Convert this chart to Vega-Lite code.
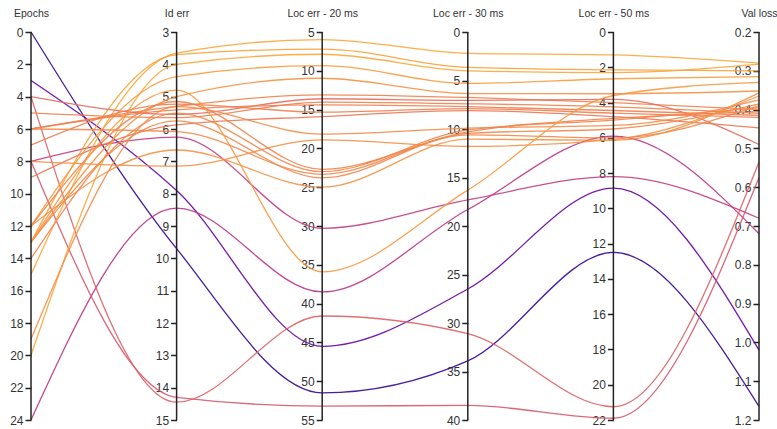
{
  "$schema": "https://vega.github.io/schema/vega-lite/v6.json",
  "width": 728,
  "height": 388,
  "autosize": {"type": "none"},
  "padding": {"left": 31, "top": 32, "right": 18, "bottom": 9},
  "background": "white",
  "config": {
    "view": {"stroke": null},
    "font": "Liberation Sans",
    "axis": {
      "domain": false,
      "grid": false,
      "ticks": true,
      "tickColor": "#222",
      "tickSize": 6,
      "tickWidth": 1.5,
      "labelFont": "Liberation Sans",
      "labelFontSize": 12,
      "labelColor": "#333",
      "labelPadding": 2,
      "titleFont": "Liberation Sans",
      "titleFontSize": 10.5,
      "titleFontWeight": "normal",
      "titleColor": "#333",
      "titleAngle": 0,
      "titleX": 0,
      "titleY": -16,
      "titleAlign": "center",
      "titleBaseline": "alphabetic"
    }
  },
  "datasets": {
    "dims": [
      {"key": "Epochs", "idx": 0, "lo": 0, "hi": 24},
      {"key": "Id err", "idx": 1, "lo": 3, "hi": 15},
      {"key": "Loc err - 20 ms", "idx": 2, "lo": 5, "hi": 55},
      {"key": "Loc err - 30 ms", "idx": 3, "lo": 0, "hi": 40},
      {"key": "Loc err - 50 ms", "idx": 4, "lo": 0, "hi": 22},
      {"key": "Val loss", "idx": 5, "lo": 0.2, "hi": 1.2}
    ],
    "runs": [
      {"run": 1, "Epochs": 0, "Id err": 9.7, "Loc err - 20 ms": 51.5, "Loc err - 30 ms": 33.9, "Loc err - 50 ms": 12.5, "Val loss": 1.165},
      {"run": 2, "Epochs": 3, "Id err": 7.9, "Loc err - 20 ms": 45.5, "Loc err - 30 ms": 26.5, "Loc err - 50 ms": 8.85, "Val loss": 1.02},
      {"run": 3, "Epochs": 24, "Id err": 8.45, "Loc err - 20 ms": 38.5, "Loc err - 30 ms": 18.3, "Loc err - 50 ms": 5.9, "Val loss": 0.72},
      {"run": 4, "Epochs": 8, "Id err": 6.25, "Loc err - 20 ms": 30.3, "Loc err - 30 ms": 17.3, "Loc err - 50 ms": 8.2, "Val loss": 0.68},
      {"run": 5, "Epochs": 8, "Id err": 14.3, "Loc err - 20 ms": 53.2, "Loc err - 30 ms": 38.5, "Loc err - 50 ms": 21.9, "Val loss": 0.575},
      {"run": 6, "Epochs": 4, "Id err": 14.45, "Loc err - 20 ms": 41.6, "Loc err - 30 ms": 31.1, "Loc err - 50 ms": 21.25, "Val loss": 0.535},
      {"run": 7, "Epochs": 15, "Id err": 3.65, "Loc err - 20 ms": 5.97, "Loc err - 30 ms": 2.2, "Loc err - 50 ms": 1.3, "Val loss": 0.28},
      {"run": 8, "Epochs": 13, "Id err": 3.7, "Loc err - 20 ms": 7.2, "Loc err - 30 ms": 3.65, "Loc err - 50 ms": 2.15, "Val loss": 0.3},
      {"run": 9, "Epochs": 20, "Id err": 4.0, "Loc err - 20 ms": 7.87, "Loc err - 30 ms": 4.0, "Loc err - 50 ms": 2.3, "Val loss": 0.283},
      {"run": 10, "Epochs": 12, "Id err": 4.38, "Loc err - 20 ms": 9.33, "Loc err - 30 ms": 5.3, "Loc err - 50 ms": 2.65, "Val loss": 0.315},
      {"run": 11, "Epochs": 13, "Id err": 5.0, "Loc err - 20 ms": 10.96, "Loc err - 30 ms": 6.35, "Loc err - 50 ms": 3.5, "Val loss": 0.352},
      {"run": 12, "Epochs": 6, "Id err": 5.3, "Loc err - 20 ms": 13.1, "Loc err - 30 ms": 6.75, "Loc err - 50 ms": 4.0, "Val loss": 0.4},
      {"run": 13, "Epochs": 4, "Id err": 5.55, "Loc err - 20 ms": 13.6, "Loc err - 30 ms": 7.05, "Loc err - 50 ms": 3.82, "Val loss": 0.49},
      {"run": 14, "Epochs": 5, "Id err": 5.65, "Loc err - 20 ms": 14.03, "Loc err - 30 ms": 7.4, "Loc err - 50 ms": 4.25, "Val loss": 0.41},
      {"run": 15, "Epochs": 6, "Id err": 5.41, "Loc err - 20 ms": 14.4, "Loc err - 30 ms": 7.7, "Loc err - 50 ms": 4.45, "Val loss": 0.415},
      {"run": 16, "Epochs": 7, "Id err": 5.23, "Loc err - 20 ms": 15.33, "Loc err - 30 ms": 7.9, "Loc err - 50 ms": 4.6, "Val loss": 0.42},
      {"run": 17, "Epochs": 9, "Id err": 5.87, "Loc err - 20 ms": 15.9, "Loc err - 30 ms": 8.1, "Loc err - 50 ms": 4.8, "Val loss": 0.447},
      {"run": 18, "Epochs": 19, "Id err": 5.31, "Loc err - 20 ms": 18.16, "Loc err - 30 ms": 9.9, "Loc err - 50 ms": 5.3, "Val loss": 0.375},
      {"run": 19, "Epochs": 8, "Id err": 7.15, "Loc err - 20 ms": 18.9, "Loc err - 30 ms": 11.8, "Loc err - 50 ms": 6.1, "Val loss": 0.365},
      {"run": 20, "Epochs": 12, "Id err": 5.15, "Loc err - 20 ms": 22.7, "Loc err - 30 ms": 10.3, "Loc err - 50 ms": 4.9, "Val loss": 0.405},
      {"run": 21, "Epochs": 14, "Id err": 5.51, "Loc err - 20 ms": 23.0, "Loc err - 30 ms": 10.1, "Loc err - 50 ms": 5.0, "Val loss": 0.395},
      {"run": 22, "Epochs": 6, "Id err": 6.08, "Loc err - 20 ms": 23.35, "Loc err - 30 ms": 10.45, "Loc err - 50 ms": 5.5, "Val loss": 0.385},
      {"run": 23, "Epochs": 13, "Id err": 5.75, "Loc err - 20 ms": 23.8, "Loc err - 30 ms": 10.6, "Loc err - 50 ms": 6.0, "Val loss": 0.39},
      {"run": 24, "Epochs": 12, "Id err": 6.65, "Loc err - 20 ms": 25.0, "Loc err - 30 ms": 11.05, "Loc err - 50 ms": 6.14, "Val loss": 0.357},
      {"run": 25, "Epochs": 13, "Id err": 4.8, "Loc err - 20 ms": 35.9, "Loc err - 30 ms": 16.3, "Loc err - 50 ms": 3.6, "Val loss": 0.33}
    ]
  },
  "layer": [
    {
      "data": {"name": "runs"},
      "transform": [
        {"fold": ["Epochs", "Id err", "Loc err - 20 ms", "Loc err - 30 ms", "Loc err - 50 ms", "Val loss"], "as": ["key", "value"]},
        {"lookup": "key", "from": {"data": {"name": "dims"}, "key": "key", "fields": ["idx", "lo", "hi"]}},
        {"calculate": "(datum.value - datum.lo) / (datum.hi - datum.lo)", "as": "pos"}
      ],
      "mark": {"type": "line", "interpolate": "monotone", "strokeWidth": 1.3, "opacity": 0.9},
      "encoding": {
        "x": {"field": "idx", "type": "quantitative", "scale": {"domain": [0, 5], "nice": false, "zero": false}, "axis": null},
        "y": {"field": "pos", "type": "quantitative", "scale": {"domain": [0, 1], "reverse": true, "nice": false, "zero": false}, "axis": null},
        "color": {"field": "Val loss", "type": "quantitative", "scale": {"scheme": {"name": "plasma", "extent": [0.06, 0.8]}, "domain": [0.28, 1.17], "reverse": true}, "legend": null},
        "detail": {"field": "run", "type": "nominal"}
      }
    },
    {
      "data": {"name": "dims"},
      "transform": [{"filter": "datum.key === 'Epochs'"}],
      "mark": {"type": "rule", "color": "#222", "strokeWidth": 1.5},
      "encoding": {
        "x": {"field": "idx", "type": "quantitative", "scale": {"domain": [0, 5], "nice": false, "zero": false}},
        "y": {"field": "lo", "type": "quantitative", "scale": {"domain": [0, 24], "reverse": true, "nice": false, "zero": false},
              "axis": {"title": "Epochs", "orient": "left", "offset": 0, "values": [0, 2, 4, 6, 8, 10, 12, 14, 16, 18, 20, 22, 24]}},
        "y2": {"field": "hi"}
      }
    },
    {
      "data": {"name": "dims"},
      "transform": [{"filter": "datum.key === 'Id err'"}],
      "mark": {"type": "rule", "color": "#222", "strokeWidth": 1.5},
      "encoding": {
        "x": {"field": "idx", "type": "quantitative", "scale": {"domain": [0, 5], "nice": false, "zero": false}},
        "y": {"field": "lo", "type": "quantitative", "scale": {"domain": [3, 15], "reverse": true, "nice": false, "zero": false},
              "axis": {"title": "Id err", "orient": "left", "offset": -145.6, "values": [3, 4, 5, 6, 7, 8, 9, 10, 11, 12, 13, 14, 15]}},
        "y2": {"field": "hi"}
      }
    },
    {
      "data": {"name": "dims"},
      "transform": [{"filter": "datum.key === 'Loc err - 20 ms'"}],
      "mark": {"type": "rule", "color": "#222", "strokeWidth": 1.5},
      "encoding": {
        "x": {"field": "idx", "type": "quantitative", "scale": {"domain": [0, 5], "nice": false, "zero": false}},
        "y": {"field": "lo", "type": "quantitative", "scale": {"domain": [5, 55], "reverse": true, "nice": false, "zero": false},
              "axis": {"title": "Loc err - 20 ms", "orient": "left", "offset": -291.2, "values": [5, 10, 15, 20, 25, 30, 35, 40, 45, 50, 55]}},
        "y2": {"field": "hi"}
      }
    },
    {
      "data": {"name": "dims"},
      "transform": [{"filter": "datum.key === 'Loc err - 30 ms'"}],
      "mark": {"type": "rule", "color": "#222", "strokeWidth": 1.5},
      "encoding": {
        "x": {"field": "idx", "type": "quantitative", "scale": {"domain": [0, 5], "nice": false, "zero": false}},
        "y": {"field": "lo", "type": "quantitative", "scale": {"domain": [0, 40], "reverse": true, "nice": false, "zero": false},
              "axis": {"title": "Loc err - 30 ms", "orient": "left", "offset": -436.8, "values": [0, 5, 10, 15, 20, 25, 30, 35, 40]}},
        "y2": {"field": "hi"}
      }
    },
    {
      "data": {"name": "dims"},
      "transform": [{"filter": "datum.key === 'Loc err - 50 ms'"}],
      "mark": {"type": "rule", "color": "#222", "strokeWidth": 1.5},
      "encoding": {
        "x": {"field": "idx", "type": "quantitative", "scale": {"domain": [0, 5], "nice": false, "zero": false}},
        "y": {"field": "lo", "type": "quantitative", "scale": {"domain": [0, 22], "reverse": true, "nice": false, "zero": false},
              "axis": {"title": "Loc err - 50 ms", "orient": "left", "offset": -582.4, "values": [0, 2, 4, 6, 8, 10, 12, 14, 16, 18, 20, 22]}},
        "y2": {"field": "hi"}
      }
    },
    {
      "data": {"name": "dims"},
      "transform": [{"filter": "datum.key === 'Val loss'"}],
      "mark": {"type": "rule", "color": "#222", "strokeWidth": 1.5},
      "encoding": {
        "x": {"field": "idx", "type": "quantitative", "scale": {"domain": [0, 5], "nice": false, "zero": false}},
        "y": {"field": "lo", "type": "quantitative", "scale": {"domain": [0.2, 1.2], "reverse": true, "nice": false, "zero": false},
              "axis": {"title": "Val loss", "orient": "left", "offset": -728, "format": ".1f", "values": [0.2, 0.3, 0.4, 0.5, 0.6, 0.7, 0.8, 0.9, 1.0, 1.1, 1.2]}},
        "y2": {"field": "hi"}
      }
    }
  ],
  "resolve": {"scale": {"y": "independent"}, "axis": {"y": "independent"}}
}
